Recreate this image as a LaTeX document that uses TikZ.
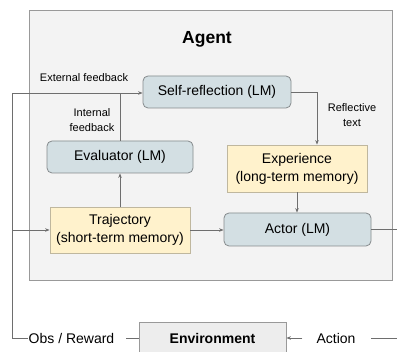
\documentclass[tikz,border=0pt]{standalone}
\usepackage{fontspec}
\setmainfont{Liberation Sans}
\usetikzlibrary{arrows.meta}
\definecolor{agentfill}{HTML}{F3F3F3}
\definecolor{agentline}{HTML}{999999}
\definecolor{lmfill}{HTML}{D3DFE3}
\definecolor{lmline}{HTML}{858A8C}
\definecolor{memfill}{HTML}{FFF2CC}
\definecolor{memline}{HTML}{BFB79E}
\definecolor{envfill}{HTML}{EDEDED}
\definecolor{wire}{HTML}{6E6E6E}
\tikzset{
  lmbox/.style={draw=lmline, fill=lmfill, rounded corners=5pt, line width=0.8pt,
    inner sep=0pt, font=\fontsize{14}{18}\selectfont},
  membox/.style={draw=memline, fill=memfill, line width=0.8pt, inner sep=0pt,
    align=center, font=\fontsize{14}{18}\selectfont},
  small/.style={inner sep=0pt, align=center, font=\fontsize{11}{15}\selectfont},
  big/.style={inner sep=0pt, font=\fontsize{14}{18}\selectfont},
  wirel/.style={draw=wire, line width=0.8pt},
  arr/.style={wirel, -{Stealth[length=4.5pt,width=3.5pt]}},
}
\begin{document}
\begin{tikzpicture}[x=1pt,y=-1pt]
\useasboundingbox (0,0) rectangle (397,352);
\clip (0,0) rectangle (397,352);
\fill[white] (0,0) rectangle (397,352);
% agent frame
\draw[draw=agentline, fill=agentfill, line width=0.8pt] (29,10) rectangle (392,280);
\node[inner sep=0pt, font=\fontsize{17.5}{20}\selectfont\bfseries] (agent) at (207,39) {Agent};
% boxes
\node[lmbox, minimum width=148pt, minimum height=32pt] (selfref) at (217,92) {Self-reflection (LM)};
\node[lmbox, minimum width=146pt, minimum height=32pt] (eval) at (120,157) {Evaluator (LM)};
\node[lmbox, minimum width=147pt, minimum height=33pt] (actor) at (297.5,229.5) {Actor (LM)};
\node[membox, minimum width=140pt, minimum height=47pt] (exp) at (297,168.5) {Experience\\(long-term memory)};
\node[membox, minimum width=140pt, minimum height=46pt] (traj) at (120,230) {Trajectory\\(short-term memory)};
\node[draw=agentline, fill=envfill, line width=0.8pt, minimum width=147pt, minimum height=32pt,
  inner sep=0pt, font=\fontsize{14}{18}\selectfont\bfseries] (env) at (212.5,338) {Environment};
% labels
\node[small] (extfb) at (84,78) {External feedback};
\node[small] (intfb) at (92,120.5) {Internal\\feedback};
\node[small] (refltext) at (352,115.5) {Reflective\\text};
\node[big] (obs) at (71.5,338) {Obs / Reward};
\node[big] (action) at (336,338) {Action};
% coordinates
\coordinate (ctop) at (12,93);
\coordinate (cbot) at (12,338);
\coordinate (rturn) at (317,92);
\coordinate (actout) at (397,229.5);
\coordinate (actin) at (397,338);
% connectors
\draw[arr] (cbot) -- (ctop) -- (selfref.west |- ctop);
\draw[wirel] (obs.west) ++(-1,0) -- (cbot);
\draw[wirel] (obs.east) ++(12,0) -- (env.west);
\draw[wirel] (eval.north) -- (eval.north |- ctop);
\draw[arr] (traj.north) -- (eval.south);
\draw[arr] (cbot |- traj.west) -- (traj.west);
\draw[arr] (traj.east) -- (traj.east -| actor.west);
\draw[arr] (selfref.east) -- (rturn) -- (rturn |- exp.north);
\draw[arr] (exp.south) -- (exp.south |- actor.north);
\draw[wirel] (actor.east) -- (actout);
\draw[wirel] (actin) -- ([xshift=15pt]action.east);
\draw[arr] ([xshift=-14pt]action.west) -- (env.east);
\end{tikzpicture}
\end{document}
